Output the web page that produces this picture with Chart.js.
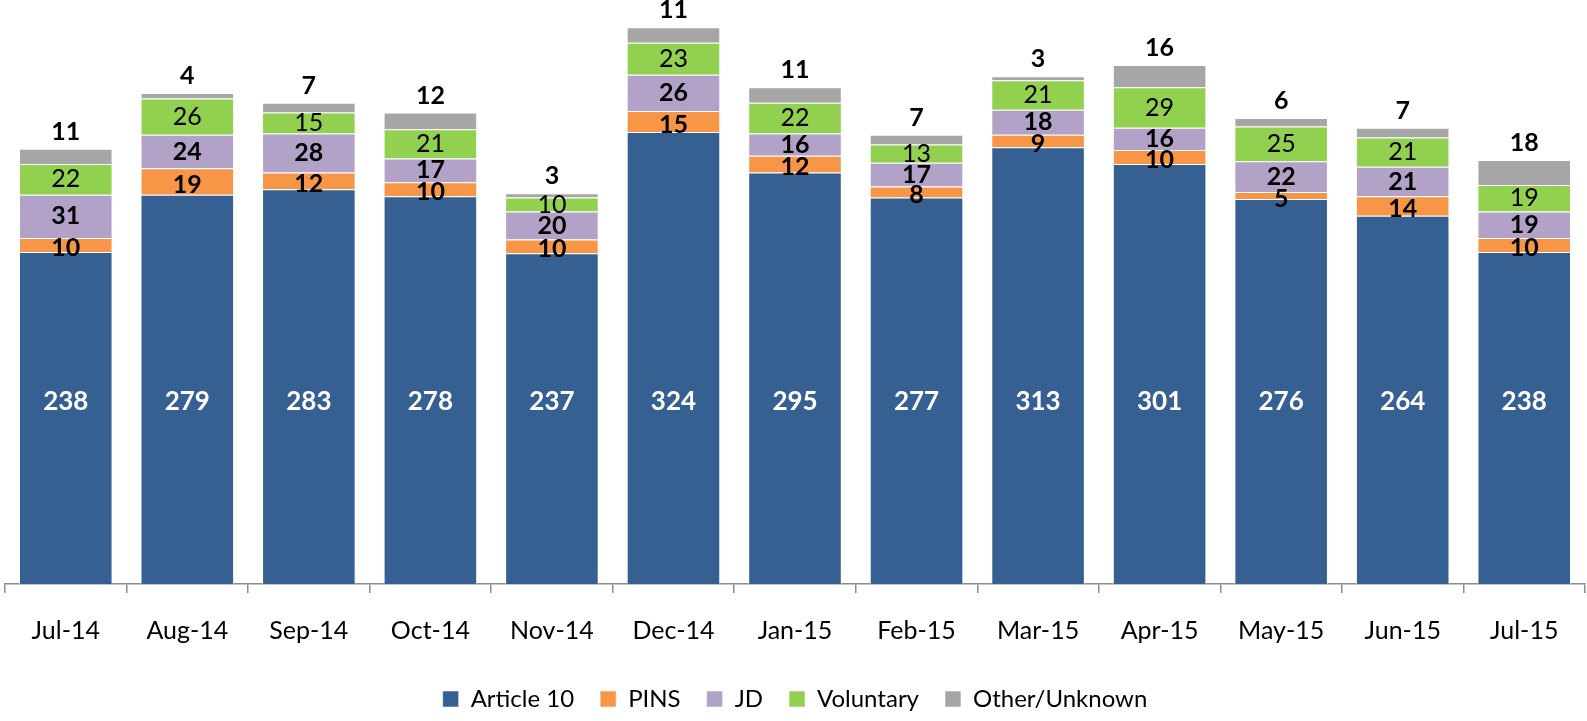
<!DOCTYPE html>
<html>
<head>
<meta charset="utf-8">
<script src="https://cdn.jsdelivr.net/npm/chart.js@4/dist/chart.umd.min.js"></script>
<style>
  html, body { margin: 0; padding: 0; background: #fff; }
  #wrap { width: 1587px; height: 721px; }
</style>
</head>
<body>
<div id="wrap"><canvas id="myChart" width="1587" height="721"></canvas></div>
<script>
var months = ['Jul-14', 'Aug-14', 'Sep-14', 'Oct-14', 'Nov-14', 'Dec-14', 'Jan-15', 'Feb-15', 'Mar-15', 'Apr-15', 'May-15', 'Jun-15', 'Jul-15'];
var article10 = [238, 279, 283, 278, 237, 324, 295, 277, 313, 301, 276, 264, 238];
var pins = [10, 19, 12, 10, 10, 15, 12, 8, 9, 10, 5, 14, 10];
var jd = [31, 24, 28, 17, 20, 26, 16, 17, 18, 16, 22, 21, 19];
var voluntary = [22, 26, 15, 21, 10, 23, 22, 13, 21, 29, 25, 21, 19];
var other = [11, 4, 7, 12, 3, 11, 11, 7, 3, 16, 6, 7, 18];

var fontName = 'Lato, "Open Sans", sans-serif';

// data labels drawn the excel way
var labelPlugin = {
    id: 'segLabels',
    afterDatasetsDraw: function (chart) {
        var ctx = chart.ctx;
        var yScale = chart.scales.y;
        ctx.save();
        ctx.textAlign = 'center';
        ctx.textBaseline = 'middle';
        chart.data.datasets.forEach(function (ds, i) {
            var meta = chart.getDatasetMeta(i);
            meta.data.forEach(function (bar, j) {
                var v = ds.data[j];
                var y;
                if (i === 0) {
                    ctx.fillStyle = '#ffffff';
                    ctx.font = 'bold 26px ' + fontName;
                    y = yScale.getPixelForValue(131);
                } else if (i === 4) {
                    ctx.fillStyle = '#000000';
                    ctx.font = 'bold 25px ' + fontName;
                    y = bar.y - 17;
                } else {
                    ctx.fillStyle = '#000000';
                    ctx.font = (i === 3 ? '' : 'bold ') + '25px ' + fontName;
                    y = (bar.y + bar.base) / 2 + (i === 1 ? 3 : 0);
                }
                ctx.fillText(String(v), bar.x, y);
            });
        });
        ctx.restore();
    }
};

function makeSet(label, data, color) {
    return {
        label: label,
        data: data,
        backgroundColor: color,
        borderColor: 'rgba(255,255,255,0.55)',
        borderWidth: 1,
        categoryPercentage: 1.0,
        barPercentage: 0.77
    };
}

var ctx = document.getElementById('myChart').getContext('2d');
var myChart = new Chart(ctx, {
    type: 'bar',
    data: {
        labels: months,
        datasets: [
            makeSet('Article 10', article10, '#366092'),
            makeSet('PINS', pins, '#F79646'),
            makeSet('JD', jd, '#B3A2C7'),
            makeSet('Voluntary', voluntary, '#92D050'),
            makeSet('Other/Unknown', other, '#A6A6A6')
        ]
    },
    options: {
        responsive: false,
        animation: false,
        layout: { padding: { left: 5, right: 2, top: 12, bottom: 0 } },
        plugins: {
            legend: {
                position: 'bottom',
                labels: {
                    boxWidth: 16,
                    boxHeight: 16,
                    padding: 26,
                    color: '#000',
                    font: { family: fontName, size: 24 }
                }
            },
            tooltip: { enabled: false }
        },
        scales: {
            x: {
                stacked: true,
                afterFit: function (scale) {
                    scale.height = scale.height - 8;
                },
                grid: {
                    offset: true,
                    drawOnChartArea: false,
                    drawTicks: true,
                    tickLength: 9,
                    color: '#8c8c8c',
                    lineWidth: 1.5
                },
                border: { display: true, color: '#8c8c8c', width: 1.5 },
                ticks: {
                    color: '#000',
                    padding: 23,
                    font: { family: fontName, size: 25 }
                }
            },
            y: {
                stacked: true,
                display: false,
                min: 0,
                max: 410
            }
        }
    },
    plugins: [labelPlugin]
});
</script>
</body>
</html>
